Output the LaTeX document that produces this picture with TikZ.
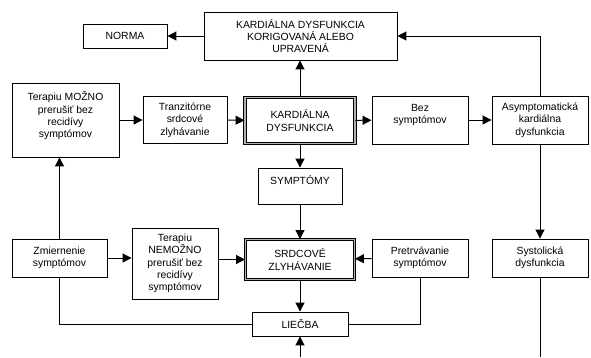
\documentclass[tikz,border=0pt]{standalone}
\usepackage{fontspec}
\setmainfont{Liberation Sans}
\usetikzlibrary{arrows.meta}

\begin{document}
\begin{tikzpicture}[x=1pt, y=-1pt,
	every node/.style={font=\fontsize{10.4}{12.4}\selectfont},
	box/.style={draw, line width=0.9pt, align=center, inner sep=0pt},
	dbox/.style={box, double=gray!60, double distance=1.4pt, line width=0.9pt},
	arr/.style={line width=1pt, -{Triangle[length=9pt, width=9pt]}},
	ln/.style={line width=1pt}]
	\useasboundingbox (0,0) rectangle (591,357);
	% upper row
	\node[box, minimum width=193pt, minimum height=48pt] (korig) at (300.5,36) {KARDIÁLNA DYSFUNKCIA\\ KORIGOVANÁ ALEBO\\ UPRAVENÁ};
	\node[box, minimum width=84pt, minimum height=24pt] (norma) at (125,36) {NORMA};
	\node[box, minimum width=107pt, minimum height=74pt] (moz) at (65.5,120) {Terapiu MOŽNO\\ prerušiť bez\\ recidívy\\ symptómov\\[-2pt]};
	\node[box, minimum width=84pt, minimum height=47pt] (tranz) at (185,120) {Tranzitórne\\ srdcové\\ zlyhávanie};
	\node[dbox, minimum width=110pt, minimum height=46pt] (kd) at (300,120.5) {KARDIÁLNA\\ DYSFUNKCIA};
	\node[box, minimum width=96pt, minimum height=48pt] (bez) at (420,120) {Bez\\ symptómov\\[-0.5pt]};
	\node[box, minimum width=96pt, minimum height=48pt] (asym) at (540,120) {Asymptomatická\\ kardiálna\\ dysfunkcia};
	\node[box, minimum width=84pt, minimum height=36pt] (sympt) at (300,186) {SYMPTÓMY\\[-0.5pt]};
	% lower row
	\node[box, minimum width=95pt, minimum height=38pt] (zmier) at (59.5,258) {Zmiernenie\\ symptómov};
	\node[box, minimum width=86pt, minimum height=71pt] (nemoz) at (175,263.5) {Terapiu\\ NEMOŽNO\\ prerušiť bez\\ recidívy\\ symptómov};
	\node[dbox, minimum width=109pt, minimum height=40pt] (srdc) at (300,259.5) {SRDCOVÉ\\ ZLYHÁVANIE};
	\node[box, minimum width=96pt, minimum height=38pt] (pretrv) at (420,258) {Pretrvávanie\\ symptómov};
	\node[box, minimum width=96pt, minimum height=38pt] (syst) at (540,258) {Systolická\\ dysfunkcia};
	\node[box, minimum width=96pt, minimum height=24pt] (liecba) at (300,324) {LIEČBA};
	\coordinate (vstup) at (300,357);
	\coordinate (dole) at (540,357);
	% connectors
	\draw[arr] (korig) -- (norma);
	\draw[arr] (kd.north) -- (kd.north |- korig.south);
	\draw[arr] (asym.north) |- (korig.east);
	\draw[arr] (moz) -- (tranz);
	\draw[arr] (tranz) -- (kd);
	\draw[arr] (kd) -- (bez);
	\draw[arr] (bez) -- (asym);
	\draw[arr] (kd) -- (sympt);
	\draw[arr] (sympt) -- (srdc);
	\draw[arr] (asym) -- (syst);
	\draw[ln] (syst) -- (dole);
	\draw[arr] (zmier.north) -- (zmier.north |- moz.south);
	\draw[arr] (zmier.east) -- (zmier.east -| nemoz.west);
	\draw[arr] (nemoz.east |- srdc.west) -- (srdc.west);
	\draw[arr] (pretrv) -- (srdc);
	\draw[arr] (srdc) -- (liecba);
	\draw[arr] (vstup) -- (liecba);
	\draw[ln] (liecba.west) -| (zmier.south);
	\draw[ln] (liecba.east) -| (pretrv.south);
\end{tikzpicture}
\end{document}
